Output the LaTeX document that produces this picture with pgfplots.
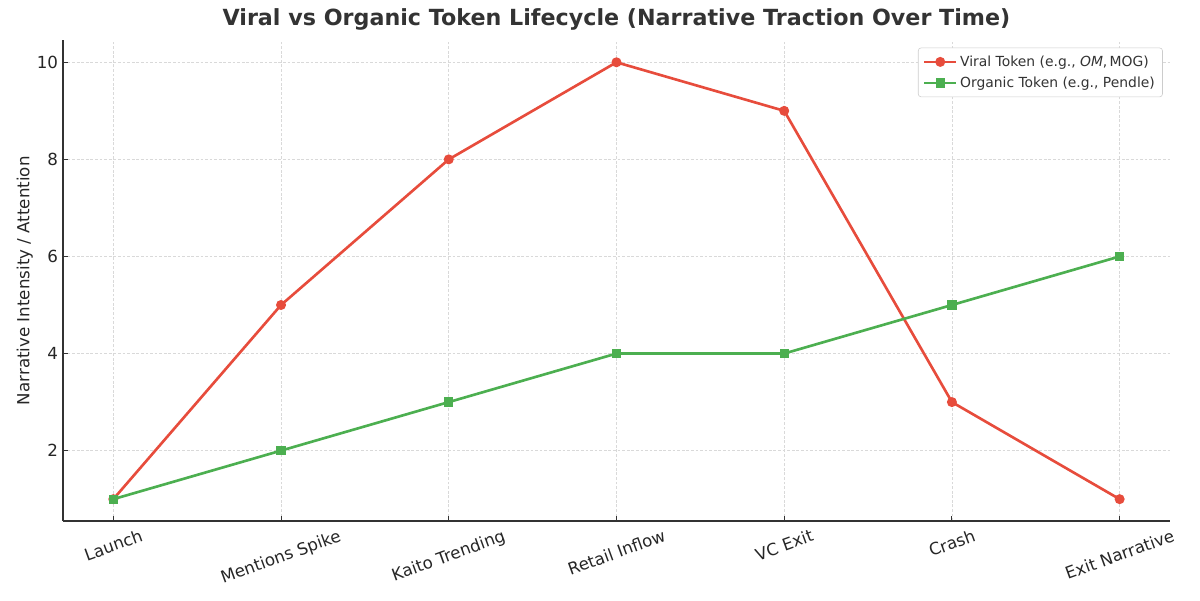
\documentclass[border=0pt]{standalone}
\usepackage{pgfplots}
\pgfplotsset{compat=1.18}
\usepackage{fontspec}
\setmainfont{DejaVu Sans}
\definecolor{viral}{HTML}{E74C3C}
\definecolor{organic}{HTML}{4CAF50}
\definecolor{txt}{HTML}{262626}
\begin{document}
\begin{tikzpicture}
\begin{axis}[
  name=ax,
  scale only axis, width=797pt, height=346pt,
  xmin=-0.3, xmax=6.3, ymin=0.55, ymax=10.45,
  axis x line*=bottom, axis y line*=left,
  axis line style={line width=0.9pt, black!80},
  xtick={0,...,6}, ytick={2,4,6,8,10},
  xticklabels={\rotatebox{20}{Launch},\rotatebox{20}{Mentions Spike},\rotatebox{20}{Kaito Trending},\rotatebox{20}{Retail Inflow},\rotatebox{20}{VC Exit},\rotatebox{20}{Crash},\rotatebox{20}{Exit Narrative}},
  xticklabel style={anchor=north, font=\fontsize{12}{14}\selectfont, text=txt, yshift=-2pt},
  yticklabel style={font=\fontsize{12}{14}\selectfont, text=txt},
  /pgf/number format/assume math mode=true,
  tick style={black!80, line width=0.7pt},
  tick align=inside, major tick length=3.5pt,
  grid=major,
  grid style={dash pattern=on 2pt off 1.3pt, line width=0.45pt, black!15},
  ylabel={Narrative Intensity / Attention},
  ylabel style={font=\fontsize{12}{14}\selectfont, text=txt, yshift=-4pt},
  title={\textbf{Viral vs Organic Token Lifecycle (Narrative Traction Over Time)}},
  title style={font=\fontsize{16}{19}\selectfont, text=black!80, yshift=-2pt},
  legend style={at={(0.9935,0.985)}, anchor=north east, font=\fontsize{10}{12}\selectfont, text=black!80, draw=black!20, rounded corners=2pt, inner sep=3.5pt, row sep=2pt},
  legend cell align=left,
  legend image code/.code={\draw[mark repeat=2,mark phase=2] plot coordinates {(0cm,0cm) (0.4cm,0cm) (0.8cm,0cm)};},
]
\addplot[viral, line width=1.9pt, mark=*, mark size=2.6pt, mark options={solid, fill=viral, draw=viral}] coordinates {(0,1) (1,5) (2,8) (3,10) (4,9) (5,3) (6,1)};
\addlegendentry{Viral Token (e.g., \textit{OM},\,MOG)}
\addplot[organic, line width=1.9pt, mark=square*, mark size=2.4pt, mark options={solid, fill=organic, draw=organic}] coordinates {(0,1) (1,2) (2,3) (3,4) (4,4) (5,5) (6,6)};
\addlegendentry{Organic Token (e.g., Pendle)}
\end{axis}
\pgfresetboundingbox
\path ([xshift=-45.36pt,yshift=-56.88pt]ax.south west) rectangle ++(864pt,432pt);
\end{tikzpicture}
\end{document}
